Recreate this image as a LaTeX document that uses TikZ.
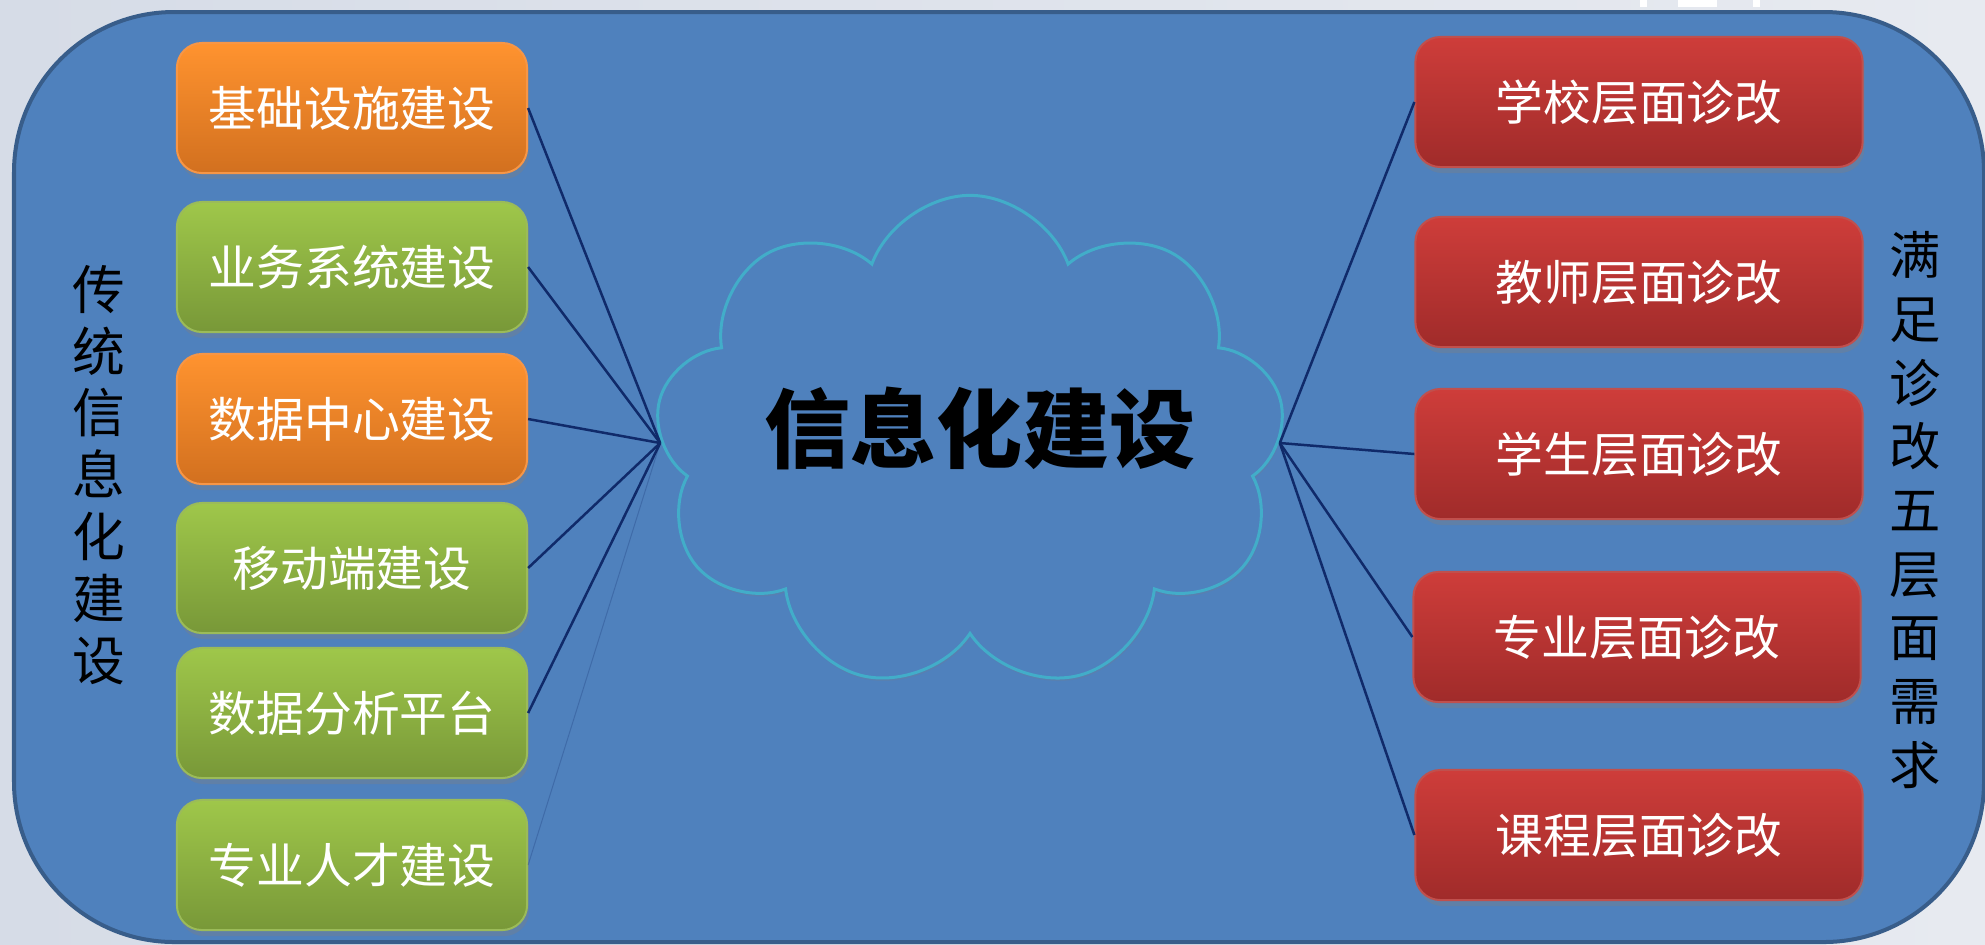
\documentclass[tikz,border=0pt]{standalone}
\usepackage{fontspec}
\newfontfamily\cjk{Noto Sans CJK SC}
\usetikzlibrary{shapes.symbols,shadows}

\definecolor{bgA}{HTML}{D6DCE7}
\definecolor{bgB}{HTML}{E7EAF0}
\definecolor{panelblue}{HTML}{4F81BD}
\definecolor{paneledge}{HTML}{385D8A}
\definecolor{orangeT}{HTML}{FF932F}
\definecolor{orangeB}{HTML}{D2701F}
\definecolor{orangeE}{HTML}{F79646}
\definecolor{greenT}{HTML}{9FC74A}
\definecolor{greenB}{HTML}{789838}
\definecolor{greenE}{HTML}{9BBB59}
\definecolor{redT}{HTML}{CE3D3A}
\definecolor{redB}{HTML}{A02B2A}
\definecolor{redE}{HTML}{C0504D}
\definecolor{cloudedge}{HTML}{42ADC9}
\definecolor{linknavy}{HTML}{102A6A}

\begin{document}
\begin{tikzpicture}[x=0.01cm, y=-0.01cm,
    box/.style={rounded corners=0.25cm, line width=0.02cm, text=white,
        font=\cjk\fontsize{13.6}{16}\selectfont,
        drop shadow={shadow xshift=0.02cm, shadow yshift=-0.06cm, opacity=0.35}},
    lbox/.style={box, minimum width=3.5cm, minimum height=1.3cm},
    rbox/.style={box, minimum width=4.47cm, minimum height=1.3cm},
    orangebox/.style={lbox, draw=orangeE, top color=orangeT, bottom color=orangeB},
    greenbox/.style={lbox, draw=greenE, top color=greenT, bottom color=greenB},
    redbox/.style={rbox, draw=redE, top color=redT, bottom color=redB},
    vlabel/.style={align=center, inner sep=0pt},
    link/.style={draw=linknavy, line width=0.025cm}]
    \useasboundingbox (0,0) rectangle (1985,944);

    % Slide background
    \fill[left color=bgA, right color=bgB] (0,0) rectangle (1985,944);
    \fill[white] (1640,0) rectangle (1647,7);
    \fill[white] (1678,0) rectangle (1717,7);
    \fill[white] (1753,0) rectangle (1760,7);

    % Blue panel
    \draw[fill=panelblue, draw=paneledge, line width=0.04cm, rounded corners=1.6cm]
        (14,12) rectangle (1984,942);

    % Side labels
    \node[vlabel, font=\cjk\fontsize{15}{17.6}\selectfont] (oldlabel) at (99,475)
        {传\\统\\信\\息\\化\\建\\设};
    \node[vlabel, font=\cjk\fontsize{14.6}{18.1}\selectfont] (needlabel) at (1915,510)
        {满\\足\\诊\\改\\五\\层\\面\\需\\求};

    % Cloud in the middle
    \node[cloud, cloud puffs=9, cloud puff arc=140, cloud ignores aspect,
        draw=cloudedge, line width=0.03cm, fill=panelblue,
        drop shadow={shadow xshift=0.01cm, shadow yshift=-0.03cm, opacity=0.2},
        minimum width=6.3cm, minimum height=4.95cm] (cl) at (970,443) {};
    \node[font=\cjk\bfseries\fontsize{24.5}{28}\selectfont] (title) at (980,428) {信息化建设};

    % Traditional construction
    \node[orangebox] (l1) at (352,108) {基础设施建设};
    \node[greenbox]  (l2) at (352,267) {业务系统建设};
    \node[orangebox] (l3) at (352,419) {数据中心建设};
    \node[greenbox]  (l4) at (352,568) {移动端建设};
    \node[greenbox]  (l5) at (352,713) {数据分析平台};
    \node[greenbox]  (l6) at (352,865) {专业人才建设};

    % Diagnosis levels
    \node[redbox] (r1) at (1639,102) {学校层面诊改};
    \node[redbox] (r2) at (1639,282) {教师层面诊改};
    \node[redbox] (r3) at (1639,454) {学生层面诊改};
    \node[redbox] (r4) at (1637,637) {专业层面诊改};
    \node[redbox] (r5) at (1639,835) {课程层面诊改};

    % Links
    \foreach \b in {l1,l2,l3,l4,l5}
        \draw[link] (\b.east) -- (cl.west);
    \draw[link, opacity=0.25, line width=0.01cm] (l6.east) -- (cl.west);
    \foreach \b in {r1,r3,r4,r5}
        \draw[link] (cl.east) -- (\b.west);
\end{tikzpicture}
\end{document}
